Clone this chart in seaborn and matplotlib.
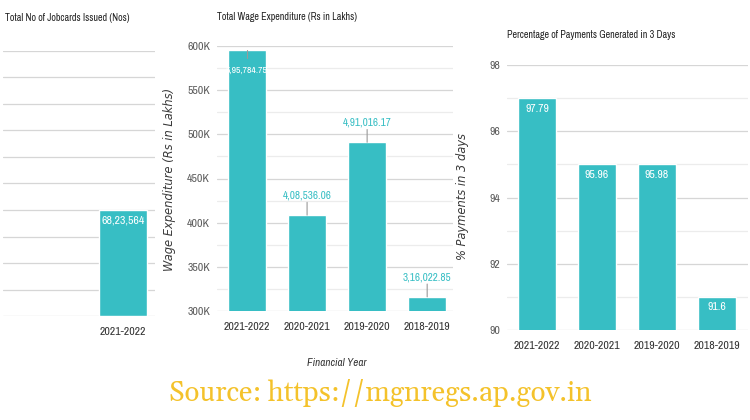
import matplotlib
matplotlib.use("Agg")
import matplotlib.pyplot as plt
from matplotlib import font_manager as fm
import seaborn as sns
import pandas as pd
import numpy as np
from matplotlib.ticker import MultipleLocator, FuncFormatter

# ---------------- data ----------------
jobcard_years = ["2021-2022"]
jobcard_values = [6823564]
jobcard_labels = ["68,23,564"]

wage_years = ["2021-2022", "2020-2021", "2019-2020", "2018-2019"]
wage_values = [595784.75, 408536.06, 491016.17, 316022.85]
wage_labels = ["5,95,784.75", "4,08,536.06", "4,91,016.17", "3,16,022.85"]

pay_years = ["2021-2022", "2020-2021", "2019-2020", "2018-2019"]
pay_bar_heights = [97.0, 95.0, 95.0, 91.0]
pay_labels = ["97.79", "95.96", "95.98", "91.6"]

# ---------------- style ----------------
sns.set_theme(style="white")
available = set(f.name for f in fm.fontManager.ttflist)
narrow_pref = ["Liberation Sans Narrow", "Arial Narrow", "Archivo Narrow",
               "Roboto Condensed", "PT Sans Narrow", "Asap Condensed"]
NARROW = [n for n in narrow_pref if n in available][:1] + ["DejaVu Sans"]
serif_pref = ["Gelasio", "DejaVu Serif"]
SERIF = [n for n in serif_pref if n in available][:1] + ["DejaVu Serif"]
SOURCE_SIZE = 20 if SERIF[0] == "Gelasio" else 17.5
plt.rcParams["font.family"] = NARROW

TEAL = "#37BEC4"
GRID_MAJOR = "#d6d6d6"
GRID_MINOR = "#ececec"
TICK_COLOR = "#5a5a5a"

W, H = 750, 420
fig = plt.figure(figsize=(W / 100, H / 100), dpi=100)


def px_axes(x0, y0, x1, y1):
    return fig.add_axes([x0 / W, 1 - y1 / H, (x1 - x0) / W, (y1 - y0) / H])


def style_axes(ax):
    for s in ax.spines.values():
        s.set_visible(False)
    ax.set_xlabel("")
    ax.set_ylabel("")
    ax.tick_params(axis="both", length=0, which="both")
    ax.tick_params(axis="y", pad=5, labelsize=8.5, labelcolor=TICK_COLOR)
    ax.tick_params(axis="x", pad=8, labelsize=8.5, labelcolor="#333333")
    ax.yaxis.grid(True, which="major", color=GRID_MAJOR, lw=0.9)
    ax.yaxis.grid(True, which="minor", color=GRID_MINOR, lw=0.9)
    ax.set_axisbelow(True)


def label_inside(ax, x, y, text, off=-11, size=8.5):
    ax.annotate(text, (x, y), xytext=(0, off), textcoords="offset points",
                ha="center", va="center", color="white", fontsize=size)


def label_above(ax, x, y, text, off=14):
    ax.annotate(text, (x, y), xytext=(0, off), textcoords="offset points",
                ha="center", va="center", color=TEAL, fontsize=8,
                bbox=dict(boxstyle="square,pad=0.15", fc="none", ec="none"),
                arrowprops=dict(arrowstyle="-", color="#9a9a9a", lw=0.8,
                                shrinkA=0, shrinkB=0))


# ---------------- panel 1: jobcards ----------------
ax1 = px_axes(3, 51, 155, 316)
df1 = pd.DataFrame({"year": jobcard_years, "value": jobcard_values})
sns.barplot(data=df1, x="year", y="value", ax=ax1, color=TEAL,
            saturation=1, width=0.63)
style_axes(ax1)
ax1.set_ylim(0, 17e6)
ax1.set_yticks(np.linspace(0, 17e6, 11))
ax1.set_yticklabels([])
ax1.set_xlim(-1.58, 0.42)
for i, (v, t) in enumerate(zip(jobcard_values, jobcard_labels)):
    label_inside(ax1, i, v, t, off=-8)

# ---------------- panel 2: wage expenditure ----------------
ax2 = px_axes(217, 46, 453, 311)
df2 = pd.DataFrame({"year": wage_years, "value": wage_values})
sns.barplot(data=df2, x="year", y="value", ax=ax2, color=TEAL,
            saturation=1, width=0.63)
style_axes(ax2)
ax2.set_ylim(300000, 600000)
ax2.yaxis.set_major_locator(MultipleLocator(50000))
ax2.yaxis.set_minor_locator(MultipleLocator(25000))
ax2.yaxis.set_major_formatter(FuncFormatter(lambda v, p: f"{int(round(v / 1000))}K"))
ax2.set_xlim(-0.5, 3.43)
for i, (v, t) in enumerate(zip(wage_values, wage_labels)):
    if v > 580000:
        ax2.plot([i, i], [v, v - 9000], color="#9a9a9a", lw=0.8)
        label_inside(ax2, i, v, t, off=-15, size=7)
    else:
        label_above(ax2, i, v, t)

# ---------------- panel 3: payments ----------------
ax3 = px_axes(507, 65, 748, 330)
df3 = pd.DataFrame({"year": pay_years, "value": pay_bar_heights})
sns.barplot(data=df3, x="year", y="value", ax=ax3, color=TEAL,
            saturation=1, width=0.63)
style_axes(ax3)
ax3.set_ylim(90, 98)
ax3.yaxis.set_major_locator(MultipleLocator(2))
ax3.yaxis.set_minor_locator(MultipleLocator(1))
ax3.yaxis.set_major_formatter(FuncFormatter(lambda v, p: f"{int(v)}"))
ax3.set_xlim(-0.5, 3.517)
for i, (v, t) in enumerate(zip(pay_bar_heights, pay_labels)):
    label_inside(ax3, i, v, t, off=-7.5)

# ---------------- texts ----------------
fig.text(5 / W, 1 - 18 / H, "Total No of Jobcards Issued (Nos)", ha="left",
         va="center", fontsize=7.2, color="#222222")
fig.text(217 / W, 1 - 17 / H, "Total Wage Expenditure (Rs in Lakhs)", ha="left",
         va="center", fontsize=7.2, color="#222222")
fig.text(507 / W, 1 - 35 / H, "Percentage of Payments Generated in 3 Days",
         ha="left", va="center", fontsize=7.2, color="#222222")

fig.text(169 / W, 1 - 179 / H, "Wage Expenditure (Rs in Lakhs)", rotation=90,
         ha="center", va="center", fontsize=8.3, style="italic",
         color="#3a3a3a", family=["DejaVu Sans"])
fig.text(463 / W, 1 - 197 / H, "% Payments in 3 days", rotation=90,
         ha="center", va="center", fontsize=8.3, style="italic",
         color="#3a3a3a", family=["DejaVu Sans"])
fig.text(337 / W, 1 - 363 / H, "Financial Year", ha="center", va="center",
         fontsize=8, style="italic", color="#333333")

fig.text(380 / W, 1 - 393 / H, "Source: https://mgnregs.ap.gov.in",
         ha="center", va="center", fontsize=SOURCE_SIZE, color="#F4C22B",
         family=SERIF)

fig.savefig("out.png", dpi=100)
